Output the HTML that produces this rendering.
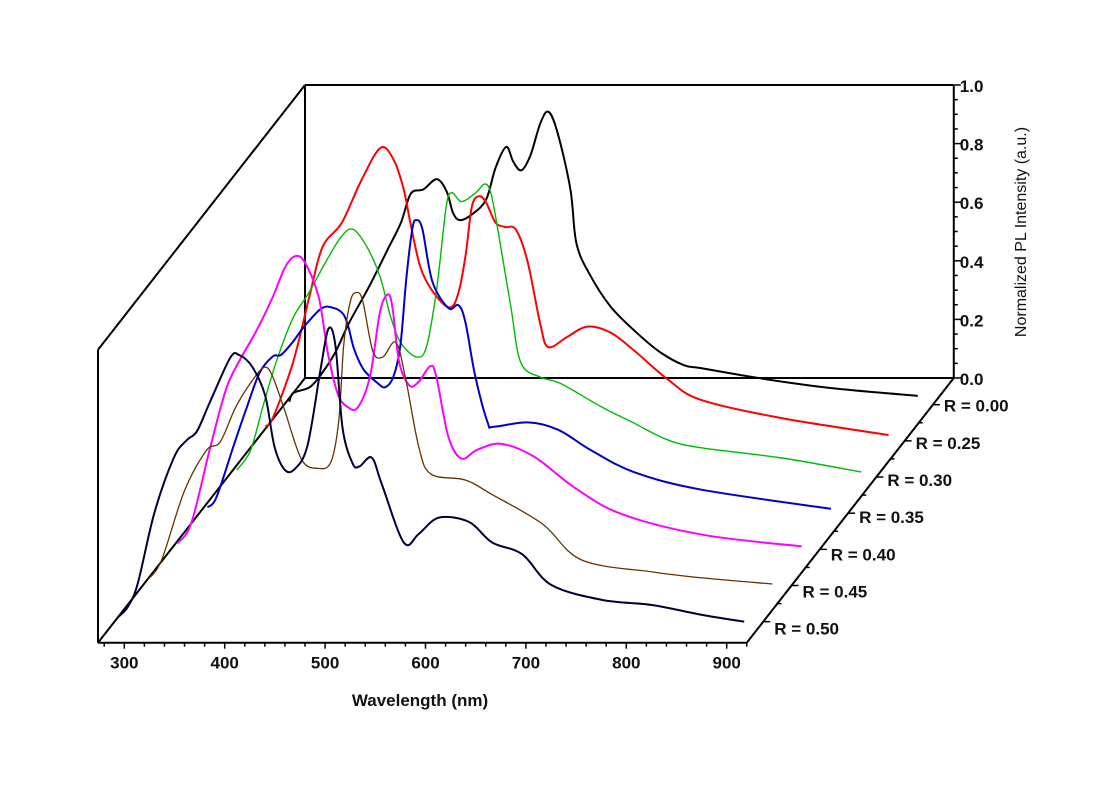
<!DOCTYPE html>
<html><head><meta charset="utf-8">
<style>
html,body{margin:0;padding:0;background:#fff;}
svg{display:block;}
text{font-family:"Liberation Sans",Arial,sans-serif;fill:#111;}
</style></head>
<body>
<svg id="chart" width="1118" height="804" viewBox="0 0 1118 804" xmlns="http://www.w3.org/2000/svg">
<g id="frame"></g>
<g id="series"></g>
<g id="ticks"></g>
<text x="420" y="706" text-anchor="middle" font-size="17" font-weight="bold">Wavelength (nm)</text>
<text x="0" y="0" transform="translate(1026,232) rotate(-90)" text-anchor="middle" font-size="16">Normalized PL Intensity (a.u.)</text>
</svg>
<script>
const seriesLabels = ["R = 0.50","R = 0.45","R = 0.40","R = 0.35","R = 0.30","R = 0.25","R = 0.00"];
const xTicks = [300,400,500,600,700,800,900];
const yTicks = [0.0,0.2,0.4,0.6,0.8,1.0];
const yTickLabels = ["0.0","0.2","0.4","0.6","0.8","1.0"];

const w050 = [277.5,287,297,313.5,333,346,356,369,389,398,411,424,433,443,453,466,479,487,494,501,511,518,530,540,562,577,597,627,650,680,709,760,809,859,901];
const i050 = [.016,.05,.13,.37,.56,.62,.65,.75,.90,.91,.87,.77,.60,.52,.52,.60,.86,1.0,.94,.66,.54,.53,.56,.47,.27,.30,.355,.34,.27,.23,.125,.074,.057,.023,0];
const w045 = [279,292.6,315,337,351,366.6,383,395,403,415,432,448,461,469,474,480.6,487,493,503,513,526,536,549,561,595,622,672,711,782,831,901];
const i045 = [.02,.087,.32,.46,.49,.61,.70,.745,.715,.60,.43,.40,.42,.56,.82,.97,1.0,.97,.80,.78,.83,.70,.47,.38,.36,.31,.21,.087,.046,.026,.005];
const w040 = [280,294,313,329,343,358,375,387,397,407,421,430,440,450,460,472,482,490,494.6,501,511,520,532,538,550,563,579,603,636,676,723,803,902];
const i040 = [.02,.09,.35,.55,.65,.74,.86,.96,1.0,.98,.86,.67,.53,.485,.485,.59,.81,.87,.82,.64,.56,.57,.625,.59,.385,.31,.34,.36,.315,.21,.12,.05,.01];
const w035 = [282,291,308,321,334,347,355,366,379,396,408,417,422,428,437.5,451,459,467,474,480,486,490,496,506,522,532,539,548.5,561,567,601,631,664,707,774,903];
const i035 = [.02,.055,.23,.36,.48,.535,.54,.58,.64,.70,.70,.68,.64,.56,.49,.445,.43,.465,.57,.80,.97,1.0,.97,.79,.70,.71,.65,.47,.31,.295,.31,.285,.215,.14,.08,.015];
const w030 = [283,296.6,309,322,338.6,355,371,387,399,413.5,426,436,446,462,472,482,491.5,497,507,521,530,536,543,556,566,586,605,646,678,712,745,826,905];
const i030 = [.024,.09,.24,.39,.54,.63,.73,.82,.845,.78,.68,.55,.46,.41,.445,.64,.92,.97,.94,.97,1.0,.97,.845,.58,.39,.34,.32,.24,.185,.127,.10,.065,.017];
const w025 = [283.5,291,311,327,340,359.5,379,398,411,421,427.7,437.5,450,467,476,483,489,496,503,512.5,522,533,544.6,557,565,584,604,627,650,684,717,797,904];
const i025 = [.05,.08,.27,.49,.66,.745,.89,1.0,.96,.86,.745,.595,.51,.455,.51,.64,.80,.835,.815,.745,.73,.72,.61,.40,.32,.355,.39,.37,.31,.21,.14,.078,.02];
const w000 = [279,283,299.5,312,325,338.6,358,377,390,400,412.5,426,436,442,449,461,475,484.5,495,502,510,519,529,537,546,559,565,579,599,622,648,672,689,748,818,905];
const i000 = [.01,.04,.06,.11,.18,.28,.40,.53,.62,.72,.735,.77,.725,.655,.63,.65,.70,.81,.88,.83,.80,.85,.96,1.0,.93,.735,.55,.44,.335,.255,.18,.135,.125,.09,.057,.03];

const seriesW = [w050,w045,w040,w035,w030,w025,w000];
const seriesI = [i050,i045,i040,i035,i030,i025,i000];
const colors = ["#000033","#663300","#ff00ff","#0000cc","#00bb00","#ff0000","#000000"];
const widths = [2,1.3,2,2,1.4,2,2];

const NS="http://www.w3.org/2000/svg";
const X0=124.3, XPX=1.004, Y0=642.7, YPX=293, DX=207, DY=264.7;
const W_MIN=273.8, W_MAX=920;
function zScale(idx){ return 0.0795 + idx*0.1366; }
function px(w,d){ return X0+(w-300)*XPX + DX*d; }
function py(v,d){ return Y0 - v*YPX - DY*d; }
function mk(tag,attrs,parent){ const e=document.createElementNS(NS,tag); for(const k in attrs) e.setAttribute(k,attrs[k]); parent.appendChild(e); return e; }

const frame=document.getElementById('frame');
const sg=document.getElementById('series');
const tg=document.getElementById('ticks');
function line(x1,y1,x2,y2,parent,name,sw){ const l=mk('line',{x1:x1,y1:y1,x2:x2,y2:y2,stroke:"#000","stroke-width":sw||2},parent);   return l; }

line(px(W_MIN,0),py(0,0),px(W_MAX,0),py(0,0),frame,'x-axis-line');
line(px(W_MIN,0),py(0,0),px(W_MIN,0),py(1,0),frame,'front-left-edge');
line(px(W_MIN,0),py(1,0),px(W_MIN,1),py(1,1),frame,'top-left-depth-edge');
line(px(W_MIN,0),py(0,0),px(W_MIN,1),py(0,1),frame,'bottom-left-depth-edge');
line(px(W_MAX,0),py(0,0),px(W_MAX,1),py(0,1),frame,'depth-axis-line');
line(px(W_MIN,1),py(0,1),px(W_MIN,1),py(1,1),frame,'back-left-edge');
line(px(W_MIN,1),py(1,1),px(W_MAX,1),py(1,1),frame,'back-top-edge');
line(px(W_MIN,1),py(0,1),px(W_MAX,1),py(0,1),frame,'back-bottom-edge');
line(px(W_MAX,1),py(0,1),px(W_MAX,1),py(1,1),frame,'y-axis-line');

function smoothPath(P){
  let s="M"+P[0][0].toFixed(1)+","+P[0][1].toFixed(1);
  for(let k=0;k<P.length-1;k++){
    const p0=P[k-1]||P[k], p1=P[k], p2=P[k+1], p3=P[k+2]||P[k+1];
    const c1x=p1[0]+(p2[0]-p0[0])/6, c1y=p1[1]+(p2[1]-p0[1])/6;
    const c2x=p2[0]-(p3[0]-p1[0])/6, c2y=p2[1]-(p3[1]-p1[1])/6;
    s+=" C"+c1x.toFixed(1)+","+c1y.toFixed(1)+" "+c2x.toFixed(1)+","+c2y.toFixed(1)+" "+p2[0].toFixed(1)+","+p2[1].toFixed(1);
  }
  return s;
}

for(let s=seriesW.length-1;s>=0;s--){
  const d=zScale(s);
  const P=seriesW[s].map((w,k)=>[px(w,d),py(seriesI[s][k],d)]);
  const pl=mk('path',{d:smoothPath(P),fill:"none",stroke:colors[s],"stroke-width":widths[s],"stroke-linejoin":"round"},sg);
  
  
}

for(let w=280; w<=920; w+=20){
  const major = xTicks.indexOf(w)>=0;
  line(px(w,0),Y0,px(w,0),Y0+(major?6:4),tg,major?'x-major-tick':'x-minor-tick',1.5);
}
xTicks.forEach(w=>{
  const t=mk('text',{x:px(w,0),y:Y0+26,"text-anchor":"middle","font-size":17,"font-weight":"bold"},tg);
  
  
  t.textContent=String(w);
});
const yx=px(W_MAX,1);
for(let k=0;k<=20;k++){
  const v=k*0.05; const major=(k%4===0);
  line(yx,py(v,1),yx+(major?7:4),py(v,1),tg,major?'y-major-tick':'y-minor-tick',1.5);
}
yTicks.forEach((v,k)=>{
  const t=mk('text',{x:yx+6,y:py(v,1)+7,"font-size":17,"font-weight":"bold"},tg);
  
  
  t.textContent=yTickLabels[k];
});
seriesLabels.forEach((lab,s)=>{
  const d=zScale(s);
  const x=px(W_MAX,d), y=py(0,d);
  line(x,y,x+7,y,tg,'depth-major-tick',1.5);
  if(s<seriesLabels.length-1){ const dm=zScale(s+0.5); line(px(W_MAX,dm),py(0,dm),px(W_MAX,dm)+4,py(0,dm),tg,'depth-minor-tick',1.5); }
  const t=mk('text',{x:x+11,y:y+13-s*1.0,"font-size":17,"font-weight":"bold"},tg);
  
  
  t.textContent=lab;
});
</script>
</body></html>
